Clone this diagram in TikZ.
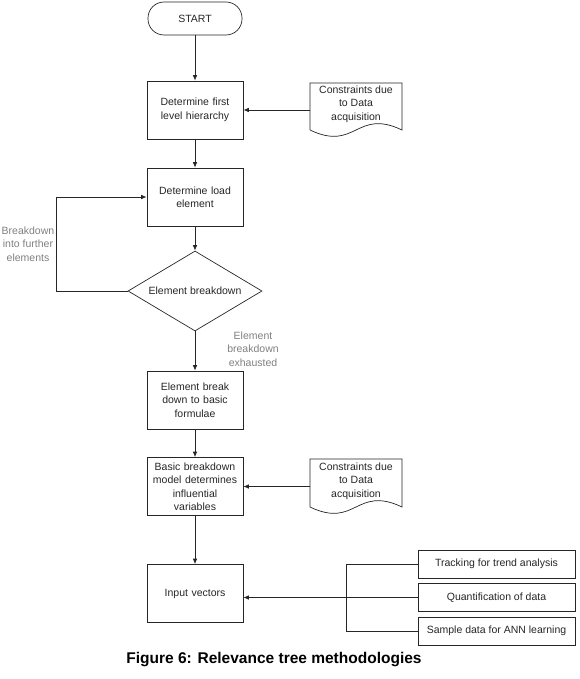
\documentclass[tikz,border=0pt]{standalone}
\usepackage{fontspec}
\setmainfont{Liberation Sans}
\usetikzlibrary{shapes.geometric,arrows.meta,calc}
\begin{document}
\begin{tikzpicture}[x=1pt,y=-1pt,
  every node/.style={font=\fontsize{10.5}{13.5}\selectfont, text=black!85},
  ln/.style={line width=0.7pt, draw=black!85},
  box/.style={ln, draw, minimum width=96pt, minimum height=58pt, align=center, inner sep=1pt, text width=92pt},
  term/.style={ln, draw, rounded corners=16pt, minimum width=94pt, minimum height=33pt},
  dec/.style={ln, draw, diamond, aspect=1.675, minimum width=134pt, minimum height=80pt, inner sep=0pt},
  doctext/.style={align=center, inner sep=1pt},
  side/.style={ln, draw, minimum width=157pt, minimum height=28pt, inner sep=1pt},
  lab/.style={text=black!50, align=center},
  arr/.style={ln, -{Latex[length=5.5pt,width=4.5pt]}}
]
\useasboundingbox (0,0) rectangle (579,679);

% main column
\node[term] (start) at (195,18.5) {START};
\node[box] (b1) at (195,110) {Determine first\\level hierarchy};
\node[box] (b2) at (195,197) {Determine load\\element};
\node[dec] (dec) at (195,291) {Element breakdown};
\node[box] (b3) at (195,400) {Element break\\down to basic\\formulae};
\node[box] (b4) at (195,486.5) {Basic breakdown\\model determines\\influential\\variables};
\node[box] (b5) at (195,593.5) {Input vectors};

% documents
\node[doctext] (d1) at (356,104) {Constraints due\\to Data\\acquisition};
\coordinate (d1w) at ($(d1)+(-46,0)$);
\draw[ln] ($(d1)+(-46,26)$) -- ($(d1)+(-46,-21)$) -- ($(d1)+(46,-21)$) -- ($(d1)+(46,26)$)
  .. controls ($(d1)+(0,4)$) and ($(d1)+(0,48)$) .. ($(d1)+(-46,26)$);
\node[doctext] (d2) at (356,481) {Constraints due\\to Data\\acquisition};
\coordinate (d2w) at ($(d2)+(-46,0)$);
\draw[ln] ($(d2)+(-46,26)$) -- ($(d2)+(-46,-22)$) -- ($(d2)+(46,-22)$) -- ($(d2)+(46,26)$)
  .. controls ($(d2)+(0,4)$) and ($(d2)+(0,48)$) .. ($(d2)+(-46,26)$);

% side boxes
\node[side] (sa) at (496.5,564) {Tracking for trend analysis};
\node[side] (sb) at (496.5,597.5) {Quantification of data};
\node[side] (sc) at (496.5,631) {Sample data for ANN learning};

% labels
\node[lab, font=\fontsize{10.5}{13.3}\selectfont] (l1) at (28,244) {Breakdown\\into further\\elements};
\node[lab, font=\fontsize{10.5}{13.3}\selectfont] (l2) at (253,349) {Element\\breakdown\\exhausted};

% connectors
\draw[arr] (start) -- (b1);
\draw[arr] (b1) -- (b2);
\draw[arr] (b2) -- (dec);
\draw[arr] (dec) -- (b3);
\draw[arr] (b3) -- (b4);
\draw[arr] (b4) -- (b5);
\draw[arr] (d1w |- b1.east) -- (b1.east);
\draw[arr] (d2w |- b4.east) -- (b4.east);
\draw[arr] (dec.west) -- ++(-71,0) |- (b2.west);
\draw[ln] (sa.west) -- ++(-71,0) |- (sc.west);
\draw[arr] (sb.west) -- (sb.west -| b5.east);

% caption
\node[font=\fontsize{15.5}{18}\selectfont\bfseries, text=black] (cap) at (274,660) {Figure 6: Relevance tree methodologies};
\end{tikzpicture}
\end{document}
